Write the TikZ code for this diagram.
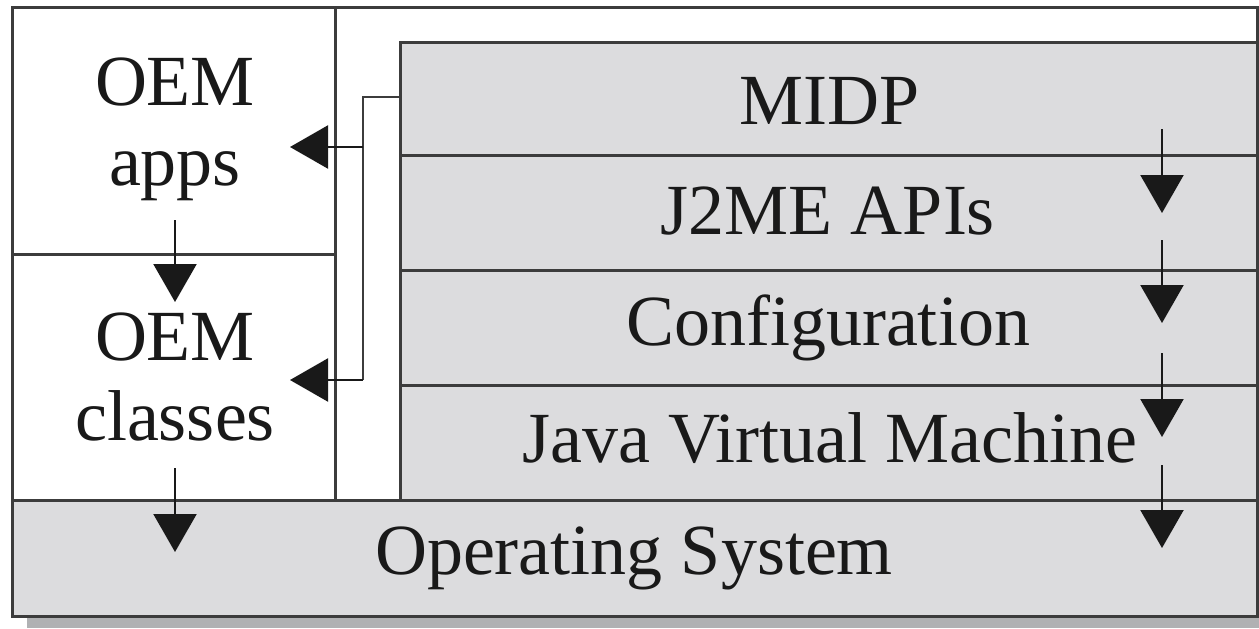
\documentclass[tikz,border=0pt]{standalone}
\usepackage{fontspec}
\setmainfont{Liberation Serif}
\usetikzlibrary{arrows.meta}
\definecolor{boxgray}{HTML}{DCDCDE}
\definecolor{shadowgray}{HTML}{B0B1B3}
\definecolor{linegray}{HTML}{3C3C3C}
\tikzset{
  layer/.style={draw=linegray, line width=1.5pt, fill=boxgray},
  plainbox/.style={draw=linegray, line width=1.5pt, fill=white},
  lbl/.style={anchor=base, inner sep=0pt, font=\fontsize{36}{42}\selectfont, text=black!90},
  arr/.style={draw=black!90, line width=1.1pt, -{Triangle[length=19pt,width=21.5pt]}},
  wire/.style={draw=linegray, line width=1.1pt},
}
\begin{document}
\begin{tikzpicture}[x=0.5pt,y=-0.5pt]
\useasboundingbox (0,0) rectangle (1259,628);
\fill[white] (0,0) rectangle (1259,628);
% shadow
\fill[shadowgray] (27,616) rectangle (1259,628);
% outer frame
\draw[plainbox] (12,7) rectangle (1257,616);
% left boxes
\draw[plainbox] (12,7) rectangle (335,254);
\path (12,7) rectangle (335,254) node[midway, inner sep=0pt] (oemapps) {};
\draw[plainbox] (12,254) rectangle (335,500);
\path (12,254) rectangle (335,500) node[midway, inner sep=0pt] (oemclasses) {};
% right stack
\draw[layer] (400,42) rectangle (1257,155);
\path (400,42) rectangle (1257,155) node[midway, inner sep=0pt] (midp) {};
\draw[layer] (400,155) rectangle (1257,270);
\path (400,155) rectangle (1257,270) node[midway, inner sep=0pt] (j2me) {};
\draw[layer] (400,270) rectangle (1257,385);
\path (400,270) rectangle (1257,385) node[midway, inner sep=0pt] (config) {};
\draw[layer] (400,385) rectangle (1257,500);
\path (400,385) rectangle (1257,500) node[midway, inner sep=0pt] (jvm) {};
% OS
\draw[layer] (12,500) rectangle (1257,616);
\path (12,500) rectangle (1257,616) node[midway, inner sep=0pt] (os) {};
% labels
\node[lbl] (tOEM1) at (175,105) {OEM};
\node[lbl] (tapps) at (175,185) {apps};
\node[lbl] (tOEM2) at (175,360) {OEM};
\node[lbl] (tclasses) at (175,440) {classes};
\node[lbl] (tmidp) at (830,124) {MIDP};
\node[lbl] (tj2me) at (828,234) {J2ME APIs};
\node[lbl] (tconf) at (828,345) {Configuration};
\node[lbl] (tjvm) at (830,462) {Java Virtual Machine};
\node[lbl] (tos) at (634,574) {Operating System};
% connector from MIDP to OEM apps / classes
\coordinate (mOut) at (400,97);
\coordinate (bend1) at (363,97);
\coordinate (bend2) at (363,147);
\coordinate (bend3) at (363,380);
\coordinate (tipA) at (290,147);
\coordinate (tipC) at (290,380);
\draw[wire] (mOut) -- (bend1) -- (bend3);
\draw[arr] (bend2) -- (tipA);
\draw[arr] (bend3) -- (tipC);
% down arrows in the stack
\coordinate (s1a) at (1162,129); \coordinate (s1b) at (1162,213);
\coordinate (s2a) at (1162,240); \coordinate (s2b) at (1162,323);
\coordinate (s3a) at (1162,353); \coordinate (s3b) at (1162,437);
\coordinate (s4a) at (1162,465); \coordinate (s4b) at (1162,548);
\draw[arr] (s1a) -- (s1b);
\draw[arr] (s2a) -- (s2b);
\draw[arr] (s3a) -- (s3b);
\draw[arr] (s4a) -- (s4b);
% left down arrows
\coordinate (l1a) at (175,220); \coordinate (l1b) at (175,302);
\coordinate (l2a) at (175,468); \coordinate (l2b) at (175,552);
\draw[arr] (l1a) -- (l1b);
\draw[arr] (l2a) -- (l2b);
\end{tikzpicture}
\end{document}
